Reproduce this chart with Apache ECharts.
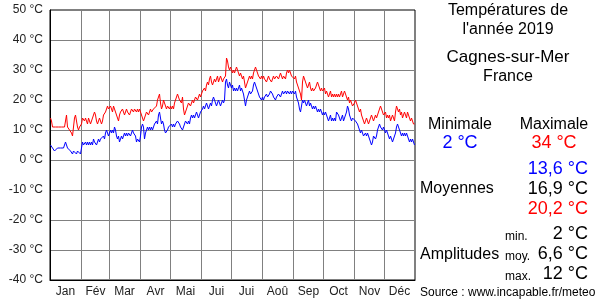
<!DOCTYPE html>
<html>
<head>
<meta charset="utf-8">
<script src="https://cdn.jsdelivr.net/npm/echarts@6/dist/echarts.min.js"></script>
<style>
html,body{margin:0;padding:0;background:#fff;}
#c{width:600px;height:300px;}
</style>
</head>
<body>
<div id="c"></div>
<script>
// Month labels and number of days per month (2019)
const monthLabels = ['Jan','Fév','Mar','Avr','Mai','Jui','Jui','Aoû','Sep','Oct','Nov','Déc'];
const monthDays = [31,28,31,30,31,30,31,31,30,31,30,31];
const yTicks = [-40,-30,-20,-10,0,10,20,30,40,50];

// Daily maximum temperatures (°C)
const tmax = [
 14,13,11,11,11,11,11,11,11,11,11,11,11,11,11,11,15,11,11,10,10,9,8,11,14,15,13,11,10,11,11,
 12,14,14,13,14,13,12,14,13,12,13,13,15,16,15,13,12,13,14,13,12,13,15,15,16,17,18,17,
 17,18,17,16,18,17,16,15,14,13,15,16,16,17,16,15,16,17,16,16,15,16,17,17,16,17,17,16,17,16,17,
 16,15,14,13,14,15,16,16,15,16,17,16,16,17,17,17,18,20,21,22,19,17,18,20,19,18,17,18,18,17,
 18,17,18,17,19,20,21,22,21,20,20,19,21,17,15,16,17,18,19,19,18,19,20,19,20,21,21,20,21,22,21,
 22,23,23,24,23,25,26,25,27,28,26,25,26,27,26,27,28,26,27,28,27,26,27,27,28,34,33,31,30,31,
 30,29,30,29,30,31,30,29,28,29,28,27,28,26,24,25,26,27,28,27,28,27,29,30,31,30,29,28,28,27,28,
 27,28,27,27,26,27,28,27,27,26,27,28,27,27,28,28,27,28,29,28,27,28,28,27,29,30,29,30,29,28,28,
 28,27,28,26,25,24,24,22,20,26,28,27,26,25,24,25,26,24,23,24,23,23,24,25,26,25,24,23,24,23,
 23,24,22,23,22,21,22,23,21,22,21,22,21,22,21,22,21,22,23,21,22,23,22,21,20,21,19,20,19,18,18,
 19,20,19,18,17,16,17,15,14,13,12,13,14,13,12,13,14,15,14,13,14,15,14,15,16,17,18,17,16,15,
 15,16,14,15,14,15,13,14,15,14,13,16,18,17,16,17,15,16,14,15,16,15,14,16,15,14,13,14,13,12,12
];

// Daily minimum temperatures (°C)
const tmin = [
 5,5,4,4,3,3,3,4,4,4,4,4,4,4,4,6,5,4,4,4,3,3,2,3,3,3,2,3,3,3,2,
 4,6,5,5,6,5,6,5,6,5,6,5,7,6,6,5,6,7,6,7,7,7,8,7,9,10,9,8,
 9,10,9,10,9,11,10,8,7,8,6,7,8,7,8,9,8,9,8,9,9,8,9,10,9,9,8,6,7,7,6,
 8,11,12,11,7,9,10,11,10,11,10,11,10,11,12,12,13,12,15,16,14,12,13,12,10,9,9,10,11,11,
 11,12,11,12,11,12,12,13,13,12,11,11,10,11,12,13,13,12,13,12,14,15,14,15,14,15,16,15,14,15,16,
 16,17,18,17,18,19,18,17,18,19,18,20,21,20,19,18,19,20,19,18,19,20,19,20,26,27,25,24,26,25,
 24,25,23,24,23,24,23,24,25,23,24,23,22,20,18,20,21,22,23,22,22,23,25,26,26,24,23,22,21,21,20,
 21,20,21,21,22,21,21,22,23,23,22,21,21,20,21,21,22,22,21,22,23,22,22,23,22,23,23,22,23,22,23,
 23,22,23,21,20,19,17,16,18,20,19,20,19,18,19,20,18,19,18,17,18,17,18,17,16,17,16,17,16,15,
 16,15,16,16,14,13,14,15,13,14,13,14,13,16,16,15,14,13,14,15,13,14,15,16,18,17,15,14,13,14,14,
 14,13,13,12,11,10,9,10,9,8,8,9,8,9,8,7,6,5,6,8,8,7,8,10,11,12,11,11,10,11,
 10,9,10,9,8,7,8,7,6,7,8,9,11,12,11,10,9,8,9,8,9,8,9,8,7,6,7,6,7,6,5
];

// Summary texts
const statMin = '2 °C', statMax = '34 °C';
const meanMin = '13,6 °C', meanAll = '16,9 °C', meanMax = '20,2 °C';
const ampMin = '2 °C', ampMoy = '6,6 °C', ampMax = '12 °C';

// derived helpers
const days = tmax.map((_, i) => i);
const monthStarts = [];
const monthMids = {};
let acc = 0;
monthDays.forEach((n, m) => { monthStarts.push(acc); monthMids[acc + Math.floor(n / 2)] = monthLabels[m]; acc += n; });

const FONT = '"Liberation Sans", Arial, sans-serif';
const chart = echarts.init(document.getElementById('c'), null, {renderer: 'canvas'});

function txt(text, x, y, size, color, align) {
  return {type: 'text', x: x, y: y, z: 10, style: {text: text, fill: color || '#000', font: size + 'px ' + FONT, align: align || 'center', verticalAlign: 'middle'}};
}

chart.setOption({
  animation: false,
  backgroundColor: '#fff',
  grid: {left: 50, top: 10, width: 365, height: 270, show: true, borderColor: '#000', borderWidth: 1, backgroundColor: 'transparent'},
  xAxis: {
    type: 'category', data: days, boundaryGap: true,
    axisLine: {show: true, onZero: false, lineStyle: {color: '#000', width: 1}},
    axisTick: {show: false},
    axisLabel: {interval: (i) => monthMids[i] !== undefined, formatter: (v, i) => monthMids[i] || '', fontFamily: FONT, fontSize: 12, color: '#222', margin: 6},
    splitLine: {show: true, interval: (i) => i > 0 && monthStarts.indexOf(i) >= 0, lineStyle: {color: '#808080', width: 1}}
  },
  yAxis: {
    type: 'value', min: -40, max: 50, interval: 10,
    axisLine: {show: true, onZero: false, lineStyle: {color: '#000', width: 1}},
    axisTick: {show: false},
    axisLabel: {formatter: '{value} °C', fontFamily: FONT, fontSize: 12, color: '#222', margin: 7},
    splitLine: {show: true, showMinLine: false, showMaxLine: false, lineStyle: {color: '#808080', width: 1}}
  },
  series: [
    {type: 'line', data: tmin, showSymbol: false, symbol: 'none', lineStyle: {color: '#0000ff', width: 1}, itemStyle: {color: '#0000ff'}, z: 3},
    {type: 'line', data: tmax, showSymbol: false, symbol: 'none', lineStyle: {color: '#ff0000', width: 1}, itemStyle: {color: '#ff0000'}, z: 4}
  ],
  graphic: [
    txt('Températures de', 508, 11, 16),
    txt("l'année 2019", 508, 30, 16),
    txt('Cagnes-sur-Mer', 508, 57, 17),
    txt('France', 508, 77, 16),
    txt('Minimale', 460, 125, 16),
    txt('Maximale', 554, 125, 16),
    txt(statMin, 460, 143, 18, '#0000ff'),
    txt(statMax, 554, 143, 18, '#ff0000'),
    txt(meanMin, 588, 169, 18, '#0000ff', 'right'),
    txt('Moyennes', 420, 189, 16, '#000', 'left'),
    txt(meanAll, 588, 189, 18, '#000', 'right'),
    txt(meanMax, 588, 209, 18, '#ff0000', 'right'),
    txt('min.', 505, 237, 12, '#000', 'left'),
    txt(ampMin, 588, 234, 18, '#000', 'right'),
    txt('Amplitudes', 420, 255, 16, '#000', 'left'),
    txt('moy.', 505, 257, 12, '#000', 'left'),
    txt(ampMoy, 588, 254, 18, '#000', 'right'),
    txt('max.', 505, 277, 12, '#000', 'left'),
    txt(ampMax, 588, 274, 18, '#000', 'right'),
    txt('Source : www.incapable.fr/meteo', 420, 293, 12, '#000', 'left')
  ]
});
</script>
</body>
</html>
